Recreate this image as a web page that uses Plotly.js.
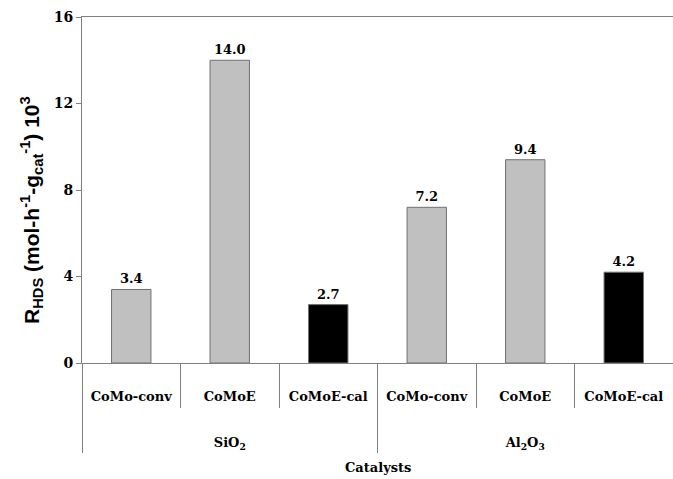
<!DOCTYPE html>
<html>
<head>
<meta charset="utf-8">
<script src="https://cdn.plot.ly/plotly-3.0.1.min.js"></script>
<style>html,body{margin:0;padding:0;background:#fff;}#chart{width:673px;height:479px;}</style>
</head>
<body>
<div id="chart"></div>
<script>
const supports = ["<br><br><br>SiO<sub>2</sub>", "<br><br><br>SiO<sub>2</sub>", "<br><br><br>SiO<sub>2</sub>", "<br><br><br>Al<sub>2</sub>O<sub>3</sub>", "<br><br><br>Al<sub>2</sub>O<sub>3</sub>", "<br><br><br>Al<sub>2</sub>O<sub>3</sub>"];
const catalysts = ["CoMo-conv", "CoMoE", "CoMoE-cal", "CoMo-conv", "CoMoE", "CoMoE-cal"];
const rhds = [3.4, 14.0, 2.7, 7.2, 9.4, 4.2];
const barColors = ["#c0c0c0", "#c0c0c0", "#000000", "#c0c0c0", "#c0c0c0", "#000000"];
const yTicks = [0, 4, 8, 12, 16];

const serif = "DejaVu Serif";

const trace = {
  type: "bar",
  x: [supports, catalysts],
  y: rhds,
  width: 0.4,
  marker: {color: barColors, line: {color: "#707070", width: 1}},
  text: rhds.map(v => v.toFixed(1)),
  textposition: "outside",
  cliponaxis: false,
  textfont: {family: serif, size: 13, color: "#000", weight: "bold"},
  hoverinfo: "skip"
};

const layout = {
  width: 673, height: 479,
  margin: {l: 82, r: 0, t: 17, b: 116},
  paper_bgcolor: "#fff", plot_bgcolor: "#fff",
  showlegend: false,
  font: {family: serif, color: "#000"},
  xaxis: {
    type: "multicategory",
    showline: true, linecolor: "#808080", linewidth: 1,
    mirror: true,
    ticks: "outside", ticklen: 44, tickcolor: "#808080", tickwidth: 1,
    tickson: "boundaries",
    ticklabelstandoff: 21,
    showdividers: true, dividercolor: "#808080", dividerwidth: 1,
    tickfont: {family: serif, size: 13, color: "#000", weight: "bold"},
    showgrid: false,
    automargin: false,
    title: {text: ""}
  },
  yaxis: {
    range: [0, 16],
    tickvals: yTicks,
    ticktext: yTicks.map(String),
    showline: true, linecolor: "#808080", linewidth: 1,
    ticks: "outside", ticklen: 5, tickcolor: "#808080",
    tickfont: {family: serif, size: 14, color: "#000", weight: "bold"},
    showgrid: false, zeroline: false,
    automargin: false,
    title: {text: ""}
  },
  annotations: [
    {
      text: "<b>Catalysts</b>", xref: "paper", yref: "paper", x: 0.5, y: 0,
      yshift: -104, showarrow: false, yanchor: "middle",
      font: {family: serif, size: 13, color: "#000"}
    },
    {
      text: "<b>R<sub>HDS</sub> (mol-h<sup>-1</sup>-g<sub>cat</sub><sup>-1</sup>) 10<sup>3</sup></b>",
      xref: "paper", yref: "paper", x: 0, y: 0.5, xshift: -51, yshift: -20,
      xanchor: "center", yanchor: "middle", textangle: -90, showarrow: false,
      font: {family: "Liberation Sans, Arial, sans-serif", size: 21, color: "#000"}
    }
  ],
  bargap: 0.6
};

Plotly.newPlot("chart", [trace], layout, {displayModeBar: false, staticPlot: true});
</script>
</body>
</html>
